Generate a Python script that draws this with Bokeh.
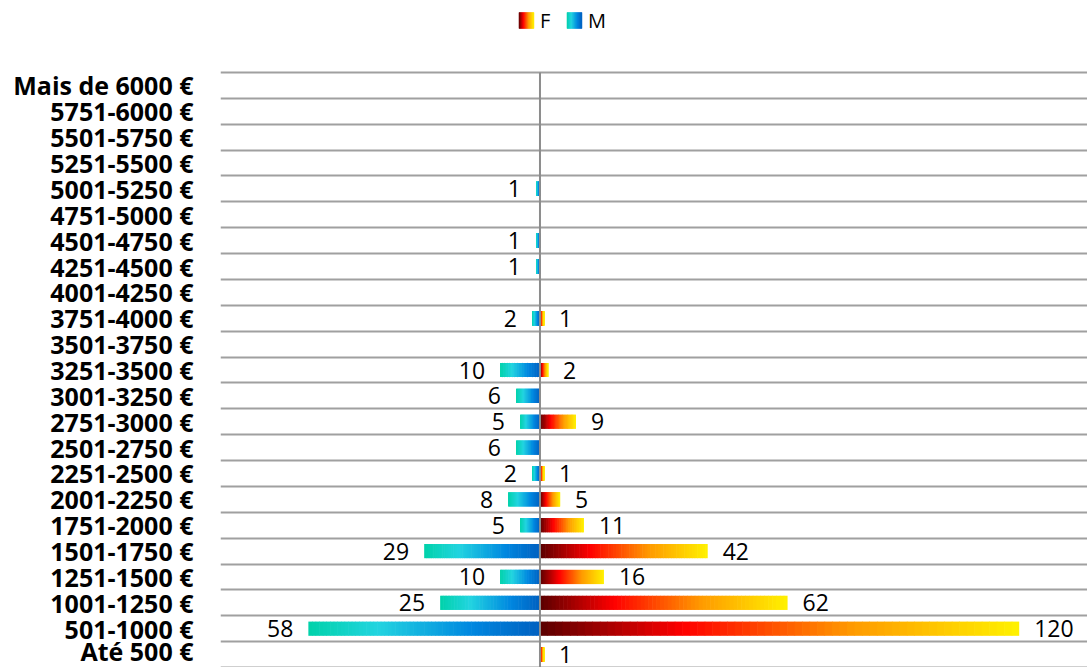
import numpy as np
from bokeh.plotting import figure
from bokeh.models import Range1d, FixedTicker, ColumnDataSource
from bokeh.core.properties import value
from bokeh.embed import file_html
from bokeh.resources import INLINE

# ---- data (bottom -> top) ----
categories = ["Até 500 €", "501-1000 €", "1001-1250 €", "1251-1500 €", "1501-1750 €",
              "1751-2000 €", "2001-2250 €", "2251-2500 €", "2501-2750 €", "2751-3000 €",
              "3001-3250 €", "3251-3500 €", "3501-3750 €", "3751-4000 €", "4001-4250 €",
              "4251-4500 €", "4501-4750 €", "4751-5000 €", "5001-5250 €", "5251-5500 €",
              "5501-5750 €", "5751-6000 €", "Mais de 6000 €"]
f_values = [1, 120, 62, 16, 42, 11, 5, 1, 0, 9, 0, 2, 0, 1, 0, 0, 0, 0, 0, 0, 0, 0, 0]
m_values = [0, 58, 25, 10, 29, 5, 8, 2, 6, 5, 6, 10, 0, 2, 0, 1, 1, 0, 1, 0, 0, 0, 0]
series = ["F", "M"]

FONT = "Open Sans"
F_STOPS = [(0.0, "#5A0000"), (0.3, "#FF0000"), (0.65, "#FF9A00"), (1.0, "#FFF200")]
M_STOPS = [(0.0, "#00D2AA"), (0.3, "#22D4E0"), (0.7, "#0088E0"), (1.0, "#0060C0")]
NSLICE = 64
BAR_H = 0.55

W, H = 1087, 667
FRAME_LEFT = 220
TOP_PX = 72
ROW_PX = 25.87
n = len(categories)
X0, X1 = -80, 137.1
PX_PER_X = (W - FRAME_LEFT) / (X1 - X0)
OVERLAP = 0.6 / PX_PER_X                      # hide anti-aliasing seams between slices
Y_TOP = (n - 0.5) + TOP_PX / ROW_PX          # room above the rows for the legend
Y_BOT = Y_TOP - H / ROW_PX


def hex2rgb(h):
    h = h.lstrip("#")
    return np.array([int(h[i:i + 2], 16) for i in (0, 2, 4)], dtype=float)


def grad(stops, t):
    for (t0, c0), (t1, c1) in zip(stops[:-1], stops[1:]):
        if t <= t1:
            u = 0 if t1 == t0 else (t - t0) / (t1 - t0)
            c = hex2rgb(c0) * (1 - u) + hex2rgb(c1) * u
            return "#%02x%02x%02x" % tuple(int(round(v)) for v in c)
    return stops[-1][1]


def slices(vals, stops, sign, ys):
    L, R, T, B, C = [], [], [], [], []
    for y, v in zip(ys, vals):
        if v <= 0:
            continue
        for k in range(NSLICE):
            t = (k + 0.5) / NSLICE
            last = k == NSLICE - 1
            if sign > 0:   # F: dark at center -> yellow outward
                a = v * k / NSLICE
                b = v * (k + 1) / NSLICE + (0 if last else OVERLAP)
            else:          # M: teal at outer end -> blue at center
                a = -v + v * k / NSLICE
                b = -v + v * (k + 1) / NSLICE + (0 if last else OVERLAP)
            L.append(a); R.append(b)
            T.append(y + BAR_H / 2); B.append(y - BAR_H / 2)
            C.append(grad(stops, t))
    return ColumnDataSource(dict(left=L, right=R, top=T, bottom=B, color=C))


ys = list(range(n))
p = figure(width=W, height=H, x_range=Range1d(X0, X1), y_range=Range1d(Y_BOT, Y_TOP),
           output_backend="svg", toolbar_location=None, x_axis_location=None,
           min_border_left=FRAME_LEFT, min_border_right=0, min_border_top=0,
           min_border_bottom=0)
p.outline_line_color = None
p.xgrid.visible = False
p.ygrid.ticker = FixedTicker(ticks=list(np.arange(n + 1) - 0.5))
p.ygrid.grid_line_color = "#A0A0A0"
p.ygrid.grid_line_width = 2

ax = p.yaxis[0]
ax.ticker = FixedTicker(ticks=ys)
ax.major_label_overrides = {i: c for i, c in enumerate(categories)}
ax.axis_line_color = None
ax.major_tick_line_color = None
ax.minor_tick_line_color = None
ax.major_tick_out = 0
ax.major_tick_in = 0
ax.major_label_standoff = 27
ax.major_label_text_font = FONT
ax.major_label_text_font_style = "bold"
ax.major_label_text_font_size = "25px"
ax.major_label_text_color = "#000000"

p.quad(left="left", right="right", top="top", bottom="bottom", fill_color="color",
       line_color=None, source=slices(f_values, F_STOPS, 1, ys))
p.quad(left="left", right="right", top="top", bottom="bottom", fill_color="color",
       line_color=None, source=slices(m_values, M_STOPS, -1, ys))

# value axis at zero
p.segment(x0=[0], y0=[-0.5], x1=[0], y1=[n - 0.5], line_color="#8C8C8C", line_width=2)

fy = [i for i, v in enumerate(f_values) if v > 0]
p.text(x=[f_values[i] for i in fy], y=fy, text=[str(f_values[i]) for i in fy],
       text_font=value(FONT), text_font_size="23px", text_align="left",
       text_baseline="middle", x_offset=15, y_offset=0, text_color="#000000")
my = [i for i, v in enumerate(m_values) if v > 0]
p.text(x=[-m_values[i] for i in my], y=my, text=[str(m_values[i]) for i in my],
       text_font=value(FONT), text_font_size="23px", text_align="right",
       text_baseline="middle", x_offset=-15, y_offset=0, text_color="#000000")

# ---- legend (gradient swatches) in the space above the rows ----
leg_y = Y_TOP - 20 / ROW_PX
icon_h = 16 / ROW_PX
icon_w = 15 / PX_PER_X
leg_x = {"F": -21 / PX_PER_X, "M": 27 / PX_PER_X}
for name, stops in zip(series, [F_STOPS, M_STOPS]):
    x0 = leg_x[name]
    xs = np.linspace(x0, x0 + icon_w, 16)
    cols = [grad(stops, (k + 0.5) / 15) for k in range(15)]
    p.quad(left=xs[:-1], right=xs[1:], top=leg_y + icon_h / 2, bottom=leg_y - icon_h / 2,
           fill_color=cols, line_color=cols, line_width=0.5)
    p.text(x=[x0 + icon_w], y=[leg_y], text=[name], text_font=value(FONT),
           text_font_size="20px", text_baseline="middle", text_align="left",
           x_offset=6, text_color="#000000")

open("out.html", "w").write(file_html(p, INLINE))
